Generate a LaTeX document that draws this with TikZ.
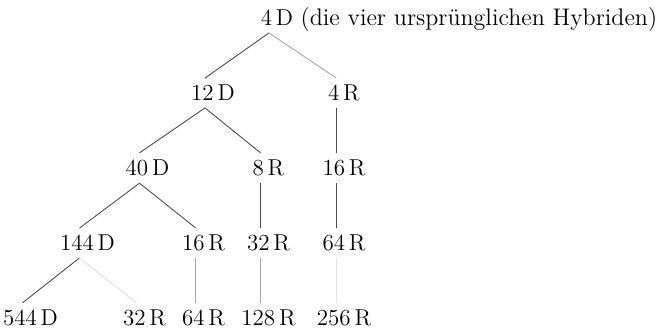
\documentclass[tikz,border=0pt]{standalone}

\begin{document}
\begin{tikzpicture}[font=\fontsize{11.5}{14}\selectfont,
  level distance=37.5pt,
  level 1/.style={sibling distance=64pt},
  level 2/.style={sibling distance=59.5pt},
  level 3/.style={sibling distance=58pt},
  level 4/.style={sibling distance=57pt},
  edge from parent/.style={draw=black!70, line width=0.45pt},
  edge from parent path={([xshift=-4pt]\tikzparentnode.south)
    -- ([xshift=-4pt]\tikzchildnode.north)},
  faint/.style={draw=black!35},
  ghost/.style={draw=black!12},
  note/.style={font=\fontsize{12}{14}\selectfont}]
\useasboundingbox (0,0) rectangle (332pt,164pt);

\node (d4) at (138.5pt,155pt) {4\,D}
  child {node (d12) {12\,D}
    child[xshift=-3pt] {node (d40) {40\,D}
      child[xshift=-1pt] {node (d144) {144\,D}
        child {node (d544) {544\,D}}
        child {node (r32b) {32\,R} edge from parent[ghost]}
      }
      child[xshift=-1pt] {node (r16b) {16\,R}
        child {node (r64b) {64\,R} edge from parent[faint]}
      }
    }
    child[xshift=-2pt] {node (r8) {8\,R}
      child {node (r32) {32\,R}
        child {node (r128) {128\,R} edge from parent[faint]}
      }
    }
  }
  child[xshift=1.5pt] {node (r4) {4\,R}
    child {node (r16) {16\,R}
      child {node (r64) {64\,R}
        child {node (r256) {256\,R} edge from parent[ghost]}
      }
    }
    edge from parent[faint]
  };

% Anmerkung zur Wurzel
\node[note, anchor=base west, inner xsep=0pt] (hyb) at (d4.base east)
  {(die vier ursprünglichen Hybriden)};

\end{tikzpicture}
\end{document}
